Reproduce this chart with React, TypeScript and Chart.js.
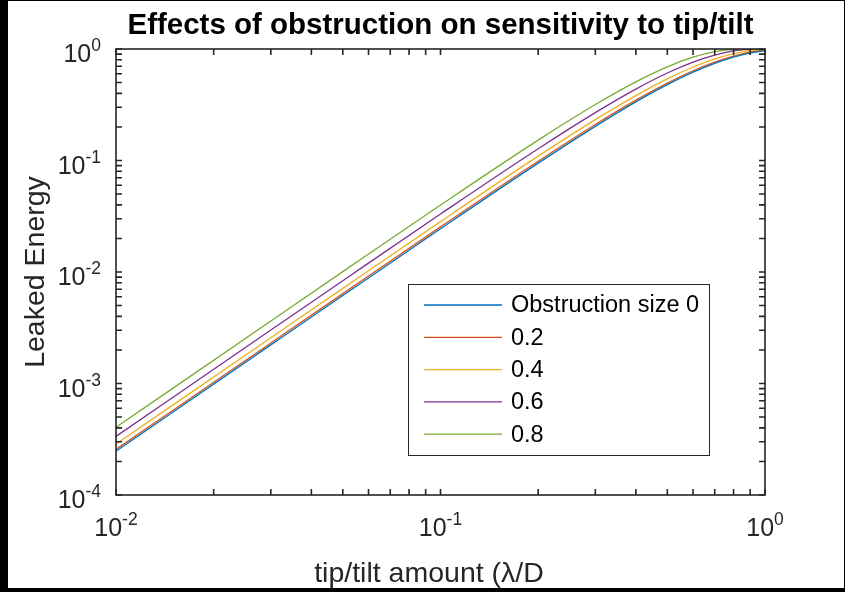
import React, { useEffect, useRef } from "react";
import { Chart, registerables } from "chart.js";

Chart.register(...registerables);

// Tip/tilt amount in units of lambda/D
const TILT = [0.01, 0.03, 0.05, 0.1, 0.2, 0.3, 0.4, 0.5, 0.6, 0.7, 0.8, 0.85, 0.9, 1.0];

// Leaked energy for each central obstruction size
const OBS_00 = [2.467e-4, 2.219e-3, 6.153e-3, 0.02442, 0.09473, 0.2025, 0.3355, 0.4791, 0.6194, 0.7444, 0.8456, 0.8863, 0.9197, 0.9672];
const OBS_02 = [2.566e-4, 2.307e-3, 6.398e-3, 0.02539, 0.09842, 0.2102, 0.3475, 0.495, 0.6379, 0.7637, 0.8639, 0.9031, 0.9349, 0.9778];
const OBS_04 = [2.862e-4, 2.573e-3, 7.135e-3, 0.0283, 0.1094, 0.2327, 0.3823, 0.5404, 0.6895, 0.8156, 0.9098, 0.9438, 0.9691, 0.9963];
const OBS_06 = [3.356e-4, 3.017e-3, 8.362e-3, 0.03313, 0.1275, 0.269, 0.4371, 0.6089, 0.7631, 0.8833, 0.9612, 0.9839, 0.9964, 0.9959];
const OBS_08 = [4.047e-4, 3.637e-3, 0.01008, 0.03985, 0.1523, 0.3175, 0.5073, 0.6914, 0.8435, 0.9463, 0.9947, 1.0, 0.9948, 0.9619];

const SERIES = [OBS_00, OBS_02, OBS_04, OBS_06, OBS_08];
const SERIES_LABELS = ["Obstruction size 0", "0.2", "0.4", "0.6", "0.8"];
const SERIES_COLORS = ["#0072BD", "#D95319", "#EDB120", "#7E2F8E", "#77AC30"];

// Decade exponents for the tick labels
const X_DECADES = [-2, -1, 0];
const Y_DECADES = [-4, -3, -2, -1, 0];

const TITLE = "Effects of obstruction on sensitivity to tip/tilt";
const X_LABEL = "tip/tilt amount (\u03BB/D";
const Y_LABEL = "Leaked Energy";

const FONT = "'Liberation Sans', Arial, Helvetica, sans-serif";
const AXIS_COLOR = "#262626";
const TICK_SIZE = 25;
const SUP_SIZE = 17.5;
const LEGEND_SIZE = 23.5;
const LABEL_SIZE = 28.5;
const TITLE_SIZE = 29.5;

function drawPower(
  ctx: CanvasRenderingContext2D,
  exp: number,
  x: number,
  baseline: number,
  align: "center" | "right"
) {
  const base = "10";
  const sup = String(exp);
  ctx.font = `${TICK_SIZE}px ${FONT}`;
  const wb = ctx.measureText(base).width;
  ctx.font = `${SUP_SIZE}px ${FONT}`;
  const ws = ctx.measureText(sup).width;
  const total = wb + ws;
  const left = align === "center" ? x - total / 2 : x - total;
  ctx.textAlign = "left";
  ctx.textBaseline = "alphabetic";
  ctx.font = `${TICK_SIZE}px ${FONT}`;
  ctx.fillText(base, left, baseline);
  ctx.font = `${SUP_SIZE}px ${FONT}`;
  ctx.fillText(sup, left + wb, baseline - 11);
}

const framePlugin = {
  id: "matlabFrame",
  beforeDraw(chart: Chart) {
    const { ctx, width, height } = chart;
    ctx.save();
    ctx.fillStyle = "#000000";
    ctx.fillRect(0, 0, width, height);
    ctx.fillStyle = "#ffffff";
    ctx.fillRect(8, 1, width - 9, height - 5);
    ctx.restore();
  },
  afterDraw(chart: Chart) {
    const { ctx, chartArea } = chart;
    const xs = chart.scales.x;
    const ys = chart.scales.y;
    const { left, right, top, bottom } = chartArea;
    ctx.save();

    // axes box
    ctx.strokeStyle = AXIS_COLOR;
    ctx.lineWidth = 1.6;
    ctx.strokeRect(left, top, right - left, bottom - top);

    // ticks, pointing inward on all four sides
    const tickLen = 6;
    ctx.beginPath();
    for (let d = X_DECADES[0]; d < X_DECADES[X_DECADES.length - 1] + 1; d++) {
      for (let m = 1; m <= 9; m++) {
        const v = m * Math.pow(10, d);
        if (v < xs.min - 1e-12 || v > xs.max + 1e-12) continue;
        const px = xs.getPixelForValue(v);
        ctx.moveTo(px, bottom);
        ctx.lineTo(px, bottom - tickLen);
        ctx.moveTo(px, top);
        ctx.lineTo(px, top + tickLen);
      }
    }
    for (let d = Y_DECADES[0]; d < Y_DECADES[Y_DECADES.length - 1] + 1; d++) {
      for (let m = 1; m <= 9; m++) {
        const v = m * Math.pow(10, d);
        if (v < ys.min - 1e-12 || v > ys.max + 1e-12) continue;
        const py = ys.getPixelForValue(v);
        ctx.moveTo(left, py);
        ctx.lineTo(left + tickLen, py);
        ctx.moveTo(right, py);
        ctx.lineTo(right - tickLen, py);
      }
    }
    ctx.stroke();

    // tick labels
    ctx.fillStyle = AXIS_COLOR;
    X_DECADES.forEach((d) => {
      const px = xs.getPixelForValue(Math.pow(10, d));
      drawPower(ctx, d, px, bottom + 41, "center");
    });
    Y_DECADES.forEach((d) => {
      const py = ys.getPixelForValue(Math.pow(10, d));
      drawPower(ctx, d, left - 15, py + 13, "right");
    });

    // axis labels
    ctx.font = `${LABEL_SIZE}px ${FONT}`;
    ctx.textAlign = "center";
    ctx.textBaseline = "alphabetic";
    ctx.fillText(X_LABEL, 429, 582);
    ctx.save();
    ctx.translate(44, (top + bottom) / 2);
    ctx.rotate(-Math.PI / 2);
    ctx.fillText(Y_LABEL, 0, 0);
    ctx.restore();

    // title
    ctx.fillStyle = "#000000";
    ctx.font = `bold ${TITLE_SIZE}px ${FONT}`;
    ctx.fillText(TITLE, (left + right) / 2, 34);

    // legend
    const box = { x: 408, y: 284, w: 301, h: 171 };
    ctx.fillStyle = "#ffffff";
    ctx.fillRect(box.x, box.y, box.w, box.h);
    ctx.strokeStyle = AXIS_COLOR;
    ctx.lineWidth = 1;
    ctx.strokeRect(box.x + 0.5, box.y + 0.5, box.w, box.h);
    ctx.font = `${LEGEND_SIZE}px ${FONT}`;
    ctx.textAlign = "left";
    ctx.textBaseline = "middle";
    chart.data.datasets.forEach((ds: any, i: number) => {
      const ry = 305 + i * 32.3;
      ctx.strokeStyle = ds.borderColor;
      ctx.lineWidth = 1.3;
      ctx.beginPath();
      ctx.moveTo(424, ry);
      ctx.lineTo(502, ry);
      ctx.stroke();
      ctx.fillStyle = "#000000";
      ctx.fillText(ds.label, 511, ry + 1);
    });

    ctx.restore();
  },
};

export default function App() {
  const ref = useRef<HTMLCanvasElement>(null);

  useEffect(() => {
    const canvas = ref.current;
    if (!canvas) return;
    const chart = new Chart(canvas, {
      type: "line",
      data: {
        datasets: SERIES.map((vals, i) => ({
          label: SERIES_LABELS[i],
          data: TILT.map((x, j) => ({ x, y: vals[j] })),
          borderColor: SERIES_COLORS[i],
          backgroundColor: SERIES_COLORS[i],
          borderWidth: 1.3,
          pointRadius: 0,
          fill: false,
          cubicInterpolationMode: "monotone" as const,
        })),
      },
      options: {
        animation: false,
        responsive: false,
        maintainAspectRatio: false,
        devicePixelRatio: 1,
        layout: { padding: { left: 116, top: 49, right: 80, bottom: 97 } },
        plugins: {
          legend: { display: false },
          title: { display: false },
          tooltip: { enabled: false },
        },
        scales: {
          x: {
            type: "logarithmic",
            min: 0.01,
            max: 1,
            ticks: { display: false },
            grid: { display: false },
            border: { display: false },
            afterFit: (s: any) => {
              s.height = 0;
            },
          },
          y: {
            type: "logarithmic",
            min: 1e-4,
            max: 1,
            ticks: { display: false },
            grid: { display: false },
            border: { display: false },
            afterFit: (s: any) => {
              s.width = 0;
            },
          },
        },
      },
      plugins: [framePlugin],
    });
    return () => chart.destroy();
  }, []);

  return (
    <div style={{ position: "absolute", left: 0, top: 0, width: 845, height: 592 }}>
      <canvas ref={ref} width={845} height={592} style={{ display: "block" }} />
    </div>
  );
}
